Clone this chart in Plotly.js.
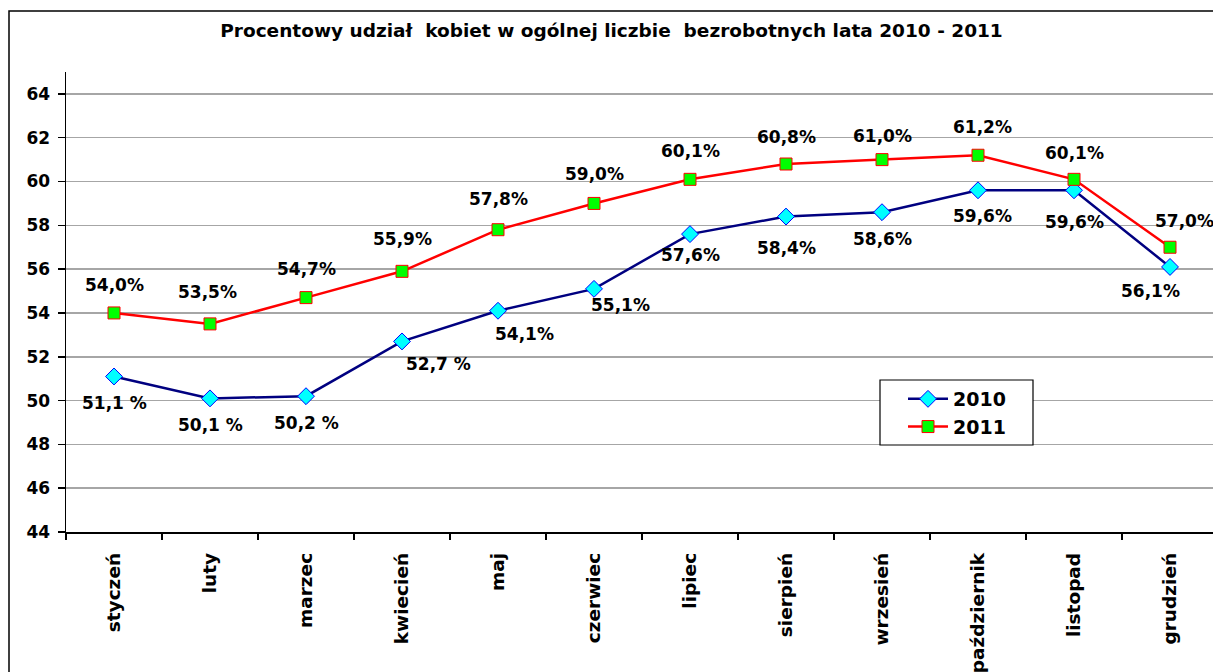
<!DOCTYPE html>
<html>
<head>
<meta charset="utf-8">
<script src="https://cdn.plot.ly/plotly-3.0.1.min.js"></script>
<style>
html,body{margin:0;padding:0;overflow:hidden;background:#fff;}
#chart{width:1220px;height:672px;}
</style>
</head>
<body>
<div id="chart"></div>
<script>
var months = ["styczeń","luty","marzec","kwiecień","maj","czerwiec","lipiec","sierpień","wrzesień","październik","listopad","grudzień"];
var values2010 = [51.1, 50.1, 50.2, 52.7, 54.1, 55.1, 57.6, 58.4, 58.6, 59.6, 59.6, 56.1];
var values2011 = [54.0, 53.5, 54.7, 55.9, 57.8, 59.0, 60.1, 60.8, 61.0, 61.2, 60.1, 57.0];
var labels2010 = ["51,1 %","50,1 %","50,2 %","52,7 %","54,1%","55,1%","57,6%","58,4%","58,6%","59,6%","59,6%","56,1%"];
var labels2011 = ["54,0%","53,5%","54,7%","55,9%","57,8%","59,0%","60,1%","60,8%","61,0%","61,2%","60,1%","57,0%"];

// label placement tweaks (layout only)
var shift2010x = [0, 0, 0, 36, 26, 26, 0, 0, 0, 4, 0, -20];
var shift2010y = [-27, -27, -27, -23, -23, -16, -21, -31, -27, -26, -32, -24];
var shift2011x = [0, -3, 0, 0, 0, 0, 0, 0, 0, 4, 0, 14];
var shift2011y = [28, 32, 29, 32, 31, 29, 28, 27, 24, 28, 26, 26];

var FONT = "'DejaVu Sans', sans-serif";

var PL = 66, PW = 1152, PT = 72, PH = 460;
function px(x){ return (x - PL) / PW; }
function py(y){ return (PT + PH - y) / PH; }

var traces = [
  {
    x: months, y: values2010, name: "2010", type: "scatter", mode: "lines+markers",
    line: {color: "#000080", width: 2.5},
    marker: {symbol: "diamond", size: 13, color: "#00FFFF", line: {color: "#0000FF", width: 1}}
  },
  {
    x: months, y: values2011, name: "2011", type: "scatter", mode: "lines+markers",
    line: {color: "#FF0000", width: 2.5},
    marker: {symbol: "square", size: 12, color: "#00FF00", line: {color: "#FF0000", width: 1}}
  }
];

var annotations = [];
months.forEach(function(m, i){
  annotations.push({x: m, y: values2010[i], text: "<b>" + labels2010[i] + "</b>", showarrow: false,
    xshift: shift2010x[i], yshift: shift2010y[i],
    font: {family: FONT, size: 17, color: "#000"}});
  annotations.push({x: m, y: values2011[i], text: "<b>" + labels2011[i] + "</b>", showarrow: false,
    xshift: shift2011x[i], yshift: shift2011y[i],
    font: {family: FONT, size: 17, color: "#000"}});
});

var layout = {
  width: 1220, height: 672,
  margin: {l: PL, r: 2, t: PT, b: 140},
  paper_bgcolor: "#fff", plot_bgcolor: "#fff",
  font: {family: FONT, color: "#000"},
  title: {
    text: "<b>Procentowy udział  kobiet w ogólnej liczbie  bezrobotnych lata 2010 - 2011</b>",
    font: {family: FONT, size: 18.5, color: "#000"},
    x: 611.5 / 1220, xanchor: "center", xref: "container", y: 1 - 31/672, yanchor: "middle"
  },
  xaxis: {
    type: "category", range: [-0.5, 11.5],
    showgrid: false, zeroline: false,
    showline: true, linecolor: "#000", linewidth: 1.5,
    ticks: "outside", ticklen: 6, tickcolor: "#000", tickwidth: 1.5,
    tickson: "boundaries", tickangle: -90, ticklabelstandoff: 12,
    tickfont: {family: FONT, size: 18.5, weight: "bold", color: "#000"},
    fixedrange: true
  },
  yaxis: {
    range: [44, 65], tick0: 44, dtick: 2,
    showgrid: true, gridcolor: "#A6A6A6", gridwidth: 1.5, zeroline: false,
    showline: true, linecolor: "#000", linewidth: 1.5,
    ticks: "outside", ticklen: 7, tickcolor: "#000", tickwidth: 1.5,
    tickfont: {family: FONT, size: 17, weight: "bold", color: "#000"},
    ticklabelstandoff: 4,
    fixedrange: true
  },
  showlegend: true,
  legend: {
    x: px(903), y: py(380), xanchor: "left", yanchor: "top",
    bgcolor: "rgba(0,0,0,0)", borderwidth: 0,
    font: {family: FONT, size: 19, weight: "bold", color: "#000"},
    tracegroupgap: 0, itemwidth: 40
  },
  annotations: annotations,
  shapes: [
    {
      type: "rect", xref: "paper", yref: "paper",
      x0: px(9), x1: 1.05, y0: -0.6, y1: py(11),
      line: {color: "#000", width: 1.5}, fillcolor: "rgba(0,0,0,0)", layer: "below"
    },
    {
      type: "rect", xref: "paper", yref: "paper",
      x0: px(880), x1: px(1033), y0: py(445), y1: py(380),
      line: {color: "#000", width: 1.2}, fillcolor: "#fff", layer: "above"
    }
  ]
};

Plotly.newPlot("chart", traces, layout, {displayModeBar: false, staticPlot: true});
</script>
</body>
</html>
